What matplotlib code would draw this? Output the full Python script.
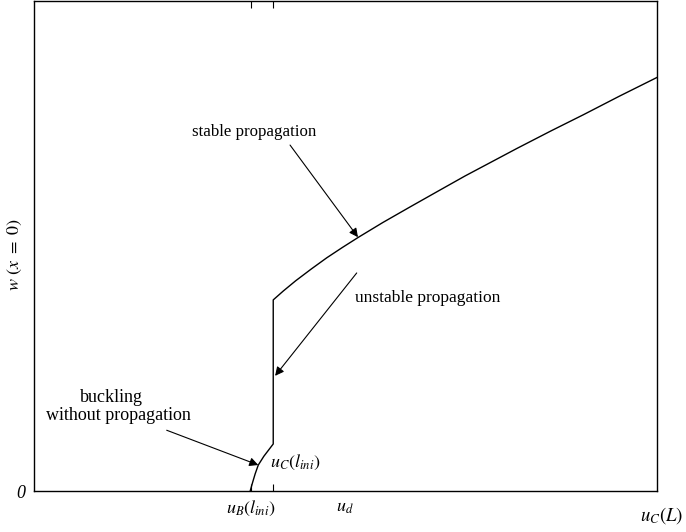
import matplotlib.pyplot as plt
import numpy as np

plt.rcParams["font.family"] = ["Liberation Serif", "DejaVu Serif"]
plt.rcParams["mathtext.fontset"] = "stix"

# curve (axis runs 0..1 both ways)
u = [0.347, 0.351, 0.355, 0.360, 0.369, 0.384, 0.384, 0.400, 0.420, 0.445,
     0.470, 0.495, 0.521, 0.560, 0.604, 0.650, 0.692, 0.735, 0.775, 0.830,
     0.882, 0.940, 1.0]
w = [0.0, 0.018, 0.035, 0.053, 0.071, 0.096, 0.390, 0.408, 0.429, 0.453,
     0.476, 0.497, 0.518, 0.548, 0.580, 0.613, 0.643, 0.672, 0.699, 0.735,
     0.768, 0.806, 0.844]

tick_pos = [0.348, 0.384]
tick_labels = [r"$u_B(l_{ini})$", ""]

fig = plt.figure(figsize=(6.86, 5.32), dpi=100)
ax = fig.add_axes([34 / 686, 41 / 532, 623 / 686, 490 / 532])

ax.plot(u, w, color="k", lw=1.0)
ax.set_xlim(0, 1)
ax.set_ylim(0, 1)

ax.set_xticks(tick_pos)
ax.set_xticklabels(tick_labels, fontsize=13)
ax.set_yticks([0])
ax.set_yticklabels(["0"], fontsize=13, fontstyle="italic")
ax.tick_params(axis="x", direction="in", top=True, length=5, width=0.8, pad=6)
ax.tick_params(axis="y", length=0, pad=6)
for s in ax.spines.values():
    s.set_linewidth(1.0)

fig.text(15 / 686, 1 - 255 / 532, r"$w\ (x\ =\ 0)$", rotation=90, ha="center", va="center", fontsize=13)

ax.text(0.499, -0.033, r"$u_d$", transform=ax.transAxes, ha="center", va="center", fontsize=13)
ax.text(1.008, -0.051, r"$u_C(L)$", transform=ax.transAxes, ha="center", va="center",
        fontsize=13.5, clip_on=False)
ax.text(0.379, 0.059, r"$u_C(l_{ini})$", transform=ax.transAxes, ha="left", va="center", fontsize=13)

arrow = dict(arrowstyle="-|>", color="k", lw=0.8, mutation_scale=13, shrinkA=0, shrinkB=0)

ax.text(0.353, 0.733, "stable propagation", transform=ax.transAxes, ha="center", va="center", fontsize=12.2)
ax.annotate("", xy=(0.520, 0.518), xytext=(0.411, 0.706), xycoords="axes fraction",
            textcoords="axes fraction", arrowprops=arrow)

ax.text(0.515, 0.394, "unstable propagation", transform=ax.transAxes, ha="left", va="center", fontsize=12.5)
ax.annotate("", xy=(0.387, 0.235), xytext=(0.518, 0.445), xycoords="axes fraction",
            textcoords="axes fraction", arrowprops=arrow)

ax.text(0.124, 0.190, "buckling", transform=ax.transAxes, ha="center", va="center", fontsize=13)
ax.text(0.136, 0.155, "without propagation", transform=ax.transAxes, ha="center", va="center", fontsize=13)
ax.annotate("", xy=(0.360, 0.053), xytext=(0.213, 0.124), xycoords="axes fraction",
            textcoords="axes fraction", arrowprops=arrow)

fig.savefig("out.png", dpi=100)
